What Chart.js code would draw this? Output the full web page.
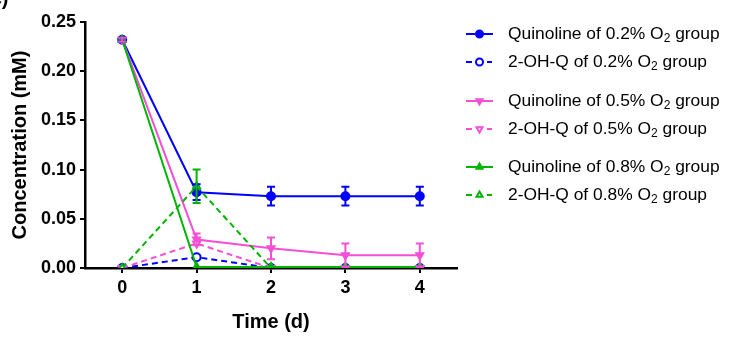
<!DOCTYPE html>
<html>
<head>
<meta charset="utf-8">
<script src="https://cdn.jsdelivr.net/npm/chart.js@4"></script>
<style>
  html, body { margin: 0; padding: 0; background: #fff; }
  #wrap { width: 735px; height: 350px; }
</style>
</head>
<body>
<div id="wrap"><canvas id="concChart" width="735" height="350"></canvas></div>
<script>
const days = [0, 1, 2, 3, 4];
const yTicks = [0, 0.05, 0.10, 0.15, 0.20, 0.25];

const quin02 = [0.232, 0.077, 0.073, 0.073, 0.073];
const quin02Err = [0.002, 0.008, 0.0095, 0.0095, 0.0095];
const ohq02 = [0, 0.011, 0, 0, 0];

const quin05 = [0.232, 0.029, 0.020, 0.013, 0.013];
const quin05Err = [0.002, 0.006, 0.011, 0.012, 0.012];
const ohq05 = [0, 0.025, 0, 0, 0];

const quin08 = [0.232, 0.001, 0.001, 0.001, 0.001];
const ohq08 = [0, 0.083, 0, 0, 0];
const ohq08Err = [0, 0.017, 0, 0, 0];

const BLUE = '#0000ff';
const PINK = '#f550d5';
const GREEN = '#00b400';

const pts = arr => arr.map((v, i) => ({ x: days[i], y: v }));

function series(label, values, color, opts) {
    return Object.assign({
        label: label,
        data: pts(values),
        borderColor: color,
        backgroundColor: color,
        pointBorderColor: color,
        borderWidth: 2,
        pointRadius: 4,
        pointBorderWidth: 2,
        fill: false,
        tension: 0
    }, opts);
}

const datasets = [
    series('Quinoline of 0.2% O|2| group', quin02, BLUE, { pointStyle: 'circle', errors: quin02Err, order: 6 }),
    series('2-OH-Q of 0.2% O|2| group', ohq02, BLUE, { pointStyle: 'circle', borderDash: [6, 4], pointBackgroundColor: '#fff', order: 5 }),
    series('Quinoline of 0.5% O|2| group', quin05, PINK, { pointStyle: 'triangle', pointRotation: 180, errors: quin05Err, order: 4 }),
    series('2-OH-Q of 0.5% O|2| group', ohq05, PINK, { pointStyle: 'triangle', pointRotation: 180, borderDash: [6, 4], pointBackgroundColor: '#fff', order: 3 }),
    series('Quinoline of 0.8% O|2| group', quin08, GREEN, { pointStyle: 'triangle', order: 1 }),
    series('2-OH-Q of 0.8% O|2| group', ohq08, GREEN, { pointStyle: 'triangle', borderDash: [6, 4], pointBackgroundColor: '#fff', errors: ohq08Err, order: 2 })
];

// error bars drawn through the scales
const errorBars = {
    id: 'errorBars',
    afterDatasetsDraw(chart) {
        const ctx = chart.ctx;
        const xs = chart.scales.x, ys = chart.scales.y;
        chart.data.datasets.forEach(ds => {
            if (!ds.errors) return;
            ctx.save();
            ctx.strokeStyle = ds.borderColor;
            ctx.lineWidth = 2;
            ds.data.forEach((p, i) => {
                const e = ds.errors[i];
                if (!e) return;
                const x = xs.getPixelForValue(p.x);
                const top = ys.getPixelForValue(p.y + e);
                const bot = ys.getPixelForValue(Math.max(p.y - e, 0));
                ctx.beginPath();
                ctx.moveTo(x, top); ctx.lineTo(x, bot);
                ctx.moveTo(x - 4, top); ctx.lineTo(x + 4, top);
                ctx.moveTo(x - 4, bot); ctx.lineTo(x + 4, bot);
                ctx.stroke();
            });
            ctx.restore();
        });
    }
};

function drawMarker(ctx, ds, x, y) {
    ctx.save();
    ctx.setLineDash([]);
    ctx.lineWidth = 2;
    ctx.strokeStyle = ds.borderColor;
    ctx.fillStyle = ds.pointBackgroundColor || ds.borderColor;
    Chart.helpers.drawPoint(ctx, {
        pointStyle: ds.pointStyle, rotation: ds.pointRotation || 0,
        radius: 3.5, borderWidth: 2
    }, x, y);
    ctx.restore();
}

// legend on the right, grouped in pairs
const sideLegend = {
    id: 'sideLegend',
    afterDraw(chart) {
        const ctx = chart.ctx;
        const rows = [34, 62, 101, 129, 167, 195];
        const font = '17.4px "Liberation Sans", Arial, sans-serif';
        const subFont = '12px "Liberation Sans", Arial, sans-serif';
        chart.data.datasets.forEach((ds, i) => {
            const y = rows[i];
            ctx.save();
            ctx.strokeStyle = ds.borderColor;
            ctx.lineWidth = 2;
            ctx.beginPath();
            if (ds.borderDash) {
                ctx.moveTo(466, y); ctx.lineTo(472, y);
                ctx.moveTo(487, y); ctx.lineTo(492, y);
            } else {
                ctx.moveTo(466, y); ctx.lineTo(493, y);
            }
            ctx.stroke();
            ctx.restore();
            drawMarker(ctx, ds, 479.5, y);

            const parts = ds.label.split('|');
            let x = 508;
            ctx.save();
            ctx.fillStyle = '#000';
            ctx.textBaseline = 'middle';
            ctx.font = font;
            ctx.fillText(parts[0], x, y);
            x += ctx.measureText(parts[0]).width;
            ctx.font = subFont;
            ctx.fillText(parts[1], x, y + 5);
            x += ctx.measureText(parts[1]).width;
            ctx.font = font;
            ctx.fillText(parts[2], x, y);
            ctx.restore();
        });

        // cut-off panel label in the corner
        ctx.save();
        ctx.fillStyle = '#000';
        ctx.font = 'bold 20px "Liberation Sans", Arial, sans-serif';
        ctx.textBaseline = 'alphabetic';
        ctx.fillText('(c)', -16, 5);
        ctx.restore();
    }
};

const tickFont = { family: '"Liberation Sans", Arial, sans-serif', size: 18, weight: 'bold' };
const titleFont = { family: '"Liberation Sans", Arial, sans-serif', size: 20, weight: 'bold' };

const config = {
    type: 'line',
    data: { datasets: datasets },
    options: {
        responsive: false,
        animation: false,
        layout: { padding: { left: 8, right: 278, top: 22, bottom: 16 } },
        plugins: {
            legend: { display: false },
            tooltip: { enabled: false }
        },
        scales: {
            x: {
                type: 'linear',
                min: -0.5,
                max: 4.5,
                afterBuildTicks: scale => { scale.ticks = days.map(v => ({ value: v })); },
                afterFit: scale => { scale.height = 66; },
                border: { color: '#000', width: 2.5 },
                grid: { drawOnChartArea: false, drawTicks: true, tickLength: 5, tickColor: '#000', lineWidth: 2 },
                ticks: { color: '#000', font: tickFont, padding: 4, maxRotation: 0 },
                title: { display: true, text: 'Time (d)', color: '#000', font: titleFont, padding: 0 }
            },
            y: {
                min: 0,
                max: 0.25,
                afterBuildTicks: scale => { scale.ticks = yTicks.map(v => ({ value: v })); },
                afterFit: scale => { scale.width = 77; },
                border: { color: '#000', width: 2.5 },
                grid: { drawOnChartArea: false, drawTicks: true, tickLength: 5, tickColor: '#000', lineWidth: 2 },
                ticks: { color: '#000', font: tickFont, padding: 4, callback: v => v.toFixed(2) },
                title: { display: true, text: 'Concentration (mM)', color: '#000', font: titleFont, padding: 0 }
            }
        }
    },
    plugins: [errorBars, sideLegend]
};

new Chart(document.getElementById('concChart').getContext('2d'), config);
</script>
</body>
</html>
